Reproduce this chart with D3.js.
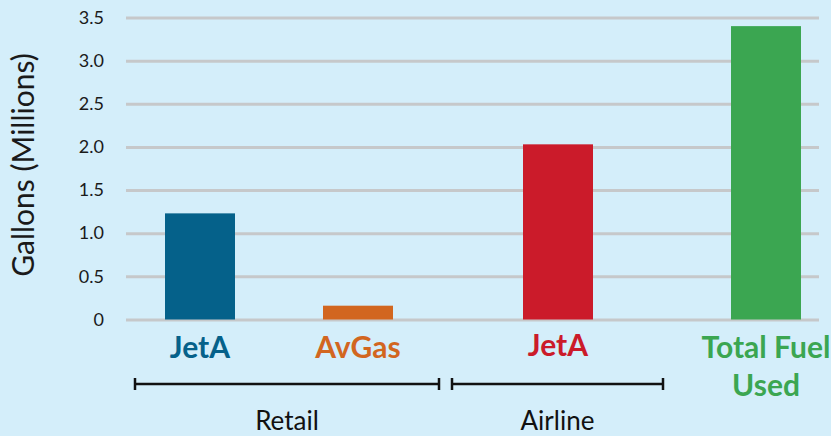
<!DOCTYPE html>
<html>
<head>
<meta charset="utf-8">
<script src="https://cdn.jsdelivr.net/npm/d3@7"></script>
<style>
  html, body { margin: 0; padding: 0; background: #d4eefa; }
  svg { display: block; }
</style>
</head>
<body>
<svg id="chart" width="831" height="436"></svg>
<script>
// Fuel sold by category (millions of gallons)
const categories = ["Retail JetA", "Retail AvGas", "Airline JetA", "Total Fuel Used"];
const labels = [["JetA"], ["AvGas"], ["JetA"], ["Total Fuel", "Used"]];
const values = [1.23, 0.16, 2.03, 3.40];
const yTicks = [0, 0.5, 1.0, 1.5, 2.0, 2.5, 3.0, 3.5];
const yTickLabels = ["0", "0.5", "1.0", "1.5", "2.0", "2.5", "3.0", "3.5"];
const groups = ["Retail", "Airline"];

const colors = ["#05618a", "#d2661f", "#cb1b2a", "#3ba651"];
const font = "'Source Sans Pro', Lato, 'Noto Sans', sans-serif";

const svg = d3.select("#chart");
const plot = { left: 126, right: 819, top: 17.5, bottom: 319.5 };

const y = d3.scaleLinear().domain([0, 3.5]).range([plot.bottom, plot.top]);
// bar centres along the category axis
const x = d3.scaleOrdinal().domain(categories).range([200, 358, 558, 766]);
const barW = 70;

// gridlines + tick labels
const yAxis = d3.axisLeft(y)
  .tickValues(yTicks)
  .tickFormat((d, i) => yTickLabels[i])
  .tickSize(-(plot.right - plot.left))
  .tickPadding(22);

const gy = svg.append("g")
  .attr("transform", `translate(${plot.left},0)`)
  .call(yAxis);
gy.select(".domain").remove();
gy.selectAll(".tick line").attr("stroke", "#c6c8ca").attr("stroke-width", 3);
gy.selectAll(".tick text")
  .attr("fill", "#1a1a1a")
  .style("font-family", font)
  .style("font-size", "18px");

// axis title
svg.append("text")
  .attr("transform", `translate(34,165) rotate(-90)`)
  .attr("text-anchor", "middle")
  .style("font-family", font)
  .style("font-size", "30px")
  .attr("fill", "#1a1a1a")
  .text("Gallons (Millions)");

// bars
svg.append("g").selectAll("rect")
  .data(categories)
  .join("rect")
  .attr("x", d => x(d) - barW / 2)
  .attr("width", barW)
  .attr("y", (d, i) => y(values[i]))
  .attr("height", (d, i) => y(0) - y(values[i]))
  .attr("fill", (d, i) => colors[i]);

// category labels
const lab = svg.append("g").selectAll("text")
  .data(categories)
  .join("text")
  .attr("x", d => x(d))
  .attr("y", (d, i) => i === 2 ? 356 : 358)
  .attr("text-anchor", "middle")
  .attr("fill", (d, i) => colors[i])
  .style("font-family", font)
  .style("font-size", "30px")
  .style("font-weight", "bold");
lab.selectAll("tspan")
  .data((d, i) => labels[i])
  .join("tspan")
  .attr("x", function () { return d3.select(this.parentNode).attr("x"); })
  .attr("dy", (d, j) => j === 0 ? 0 : 38)
  .text(d => d);

// group brackets
const bracketSpan = [[135, 439], [452, 663]];
const br = svg.append("g").attr("stroke", "#111").attr("stroke-width", 2.5);
groups.forEach((g, i) => {
  const [x0, x1] = bracketSpan[i];
  br.append("line").attr("x1", x0).attr("x2", x1).attr("y1", 384).attr("y2", 384);
  br.append("line").attr("x1", x0).attr("x2", x0).attr("y1", 378).attr("y2", 390);
  br.append("line").attr("x1", x1).attr("x2", x1).attr("y1", 378).attr("y2", 390);
  svg.append("text")
    .attr("x", (x0 + x1) / 2)
    .attr("y", 430)
    .attr("text-anchor", "middle")
    .attr("fill", "#111")
    .style("font-family", font)
    .style("font-size", "26px")
    .text(g);
});
</script>
</body>
</html>
